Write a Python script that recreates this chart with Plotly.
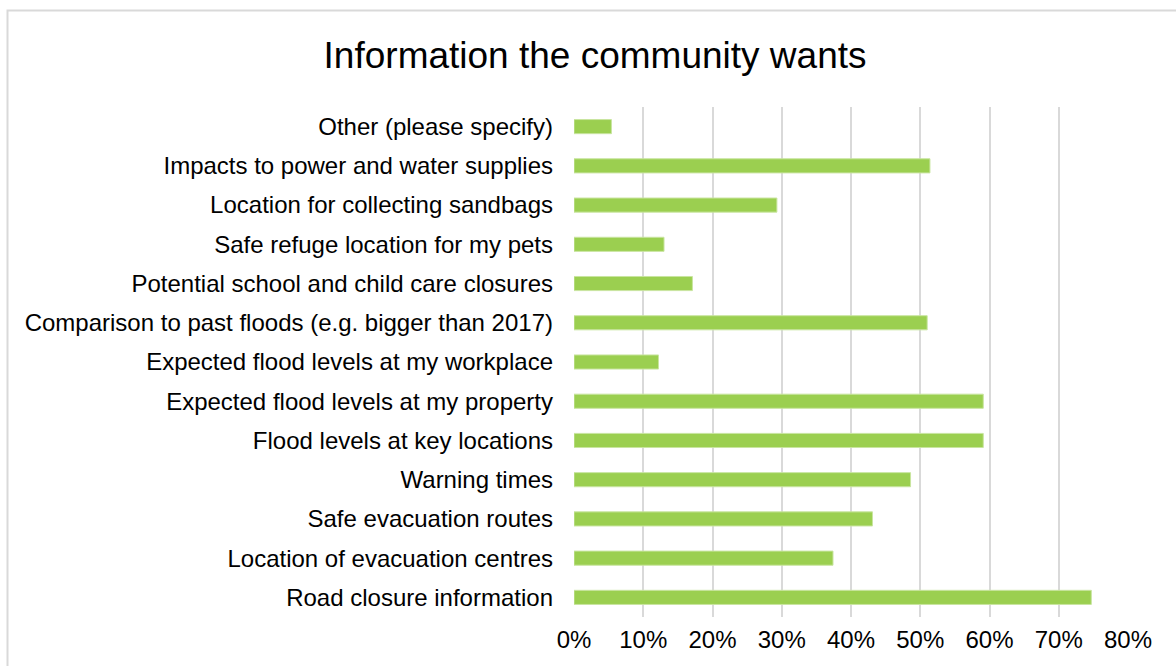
import plotly.graph_objects as go

categories = [
    "Road closure information",
    "Location of evacuation centres",
    "Safe evacuation routes",
    "Warning times",
    "Flood levels at key locations",
    "Expected flood levels at my property",
    "Expected flood levels at my workplace",
    "Comparison to past floods (e.g. bigger than 2017)",
    "Potential school and child care closures",
    "Safe refuge location for my pets",
    "Location for collecting sandbags",
    "Impacts to power and water supplies",
    "Other (please specify)",
]
values = [0.747, 0.374, 0.431, 0.486, 0.591, 0.591, 0.122, 0.510, 0.171, 0.130, 0.293, 0.514, 0.054]
x_ticks = [0, 0.1, 0.2, 0.3, 0.4, 0.5, 0.6, 0.7, 0.8]
x_tick_labels = ["0%", "10%", "20%", "30%", "40%", "50%", "60%", "70%", "80%"]

W, H = 1176, 666
ML, MR, MT, MB = 574, 48, 107, 49
pw, ph = W - ML - MR, H - MT - MB

fig = go.Figure(go.Bar(
    x=values, y=categories, orientation="h",
    marker=dict(color="#9BCF50", line=dict(color="#C9E5A0", width=1)),
    hoverinfo="x+y",
))

fig.update_layout(
    width=W, height=H,
    margin=dict(l=ML, r=MR, t=MT, b=MB, pad=0),
    paper_bgcolor="white", plot_bgcolor="white",
    font=dict(family="Liberation Sans, Arial, sans-serif", size=24, color="#000000"),
    title=dict(text="Information the community wants", x=0.506, xanchor="center",
               y=1 - 55 / H, yanchor="middle",
               font=dict(size=37, color="#000000")),
    bargap=0.64,
    showlegend=False,
)
fig.update_xaxes(
    range=[0, 0.8], tickvals=x_ticks, ticktext=x_tick_labels,
    showgrid=True, gridcolor="#D9D9D9", gridwidth=2,
    zeroline=False, showline=False, ticks="",
    ticklabelstandoff=6,
    tickfont=dict(size=24),
)
fig.update_yaxes(
    categoryorder="array", categoryarray=categories,
    showgrid=False, zeroline=False, showline=False, ticks="",
    ticklabelstandoff=20,
    tickfont=dict(size=24),
)

# outer chart border
fig.add_shape(
    type="rect", xref="paper", yref="paper",
    x0=(7.5 - ML) / pw, x1=(W + 5 - ML) / pw,
    y0=-(H + 5 - (MT + ph)) / ph, y1=(H - 10.5 - MB) / ph,
    line=dict(color="#D9D9D9", width=2), fillcolor="rgba(0,0,0,0)", layer="below",
)

fig.write_html(
    "out.html",
    config={"displayModeBar": False},
    post_script="document.body.style.margin='0';document.body.style.overflow='hidden';",
)
